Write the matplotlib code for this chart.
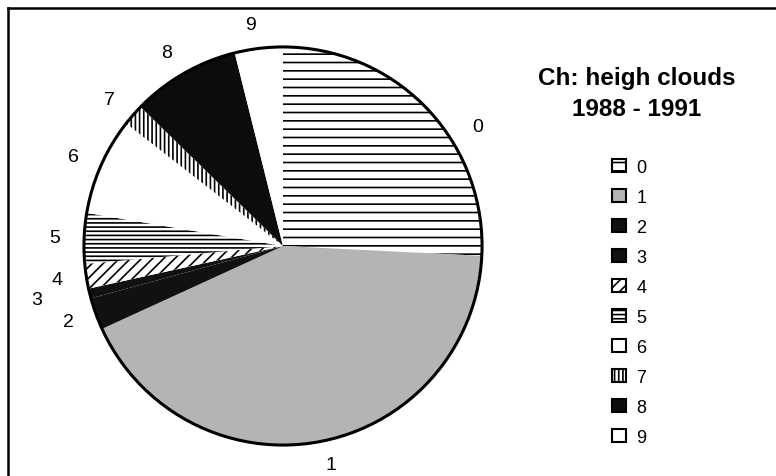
import matplotlib
matplotlib.use("Agg")
import matplotlib.pyplot as plt
from matplotlib.patches import Patch, Circle
from matplotlib.lines import Line2D

plt.rcParams["font.family"] = ["Liberation Sans", "DejaVu Sans"]
plt.rcParams["hatch.linewidth"] = 1.2

# Доля кожного типу хмар (%), оцінено з рисунка
categories = ["0", "1", "2", "3", "4", "5", "6", "7", "8", "9"]
shares = [25.8, 42.4, 2.6, 0.8, 2.0, 4.1, 7.9, 1.75, 8.8, 3.9]

# Заливка та штрихування для кожного сектора
faces = ["white", "#b4b4b4", "#111111", "#111111", "white",
         "white", "white", "white", "#0c0c0c", "white"]
hatches = ["--", None, None, None, "///", "----", None, "||||", None, None]

fig = plt.figure(figsize=(7.76, 4.77), dpi=100)
ax = fig.add_axes([73 / 776, 20 / 477, 420 / 776, 420 / 477])

wedges, texts = ax.pie(shares, labels=categories, startangle=90,
                       counterclock=False, labeldistance=1.12,
                       textprops={"fontsize": 14},
                       wedgeprops={"linewidth": 0, "edgecolor": "black"})
for w, fc, h in zip(wedges, faces, hatches):
    w.set_facecolor(fc)
    if h:
        w.set_hatch(h)

# Підпис "0" нижче, "3" лівіше - як на оригіналі
texts[0].set_position((0.95, 0.60))
texts[3].set_position((-1.21, -0.27))

# Товстий контур кола
ax.add_patch(Circle((0, 0), 1, fill=False, lw=2.2, ec="black"))
ax.set_xlim(-1.055, 1.055)
ax.set_ylim(-1.055, 1.055)
ax.set_aspect("equal")
ax.axis("off")

# Легенда
handles = [Patch(facecolor=fc, edgecolor="black", hatch=h, linewidth=1.5)
           for fc, h in zip(faces, hatches)]
fig.legend(handles, categories, loc="upper left",
           bbox_to_anchor=(603 / 776, 1 - 151 / 477), frameon=False,
           borderpad=0, fontsize=13, handlelength=0.75, handleheight=0.75,
           handletextpad=0.6, labelspacing=0.72)

fig.text(637 / 776, 1 - 94 / 477, "Ch: heigh clouds\n1988 - 1991",
         ha="center", va="center", fontsize=17.5, fontweight="bold",
         linespacing=1.4)

# Рамка (ліва та верхня лінії)
fig.add_artist(Line2D([8 / 776, 8 / 776], [0, 1 - 9 / 477], color="black",
                      lw=1.8, transform=fig.transFigure))
fig.add_artist(Line2D([8 / 776, 1], [1 - 9 / 477, 1 - 9 / 477], color="black",
                      lw=1.8, transform=fig.transFigure))

fig.savefig("out.png", dpi=100)
